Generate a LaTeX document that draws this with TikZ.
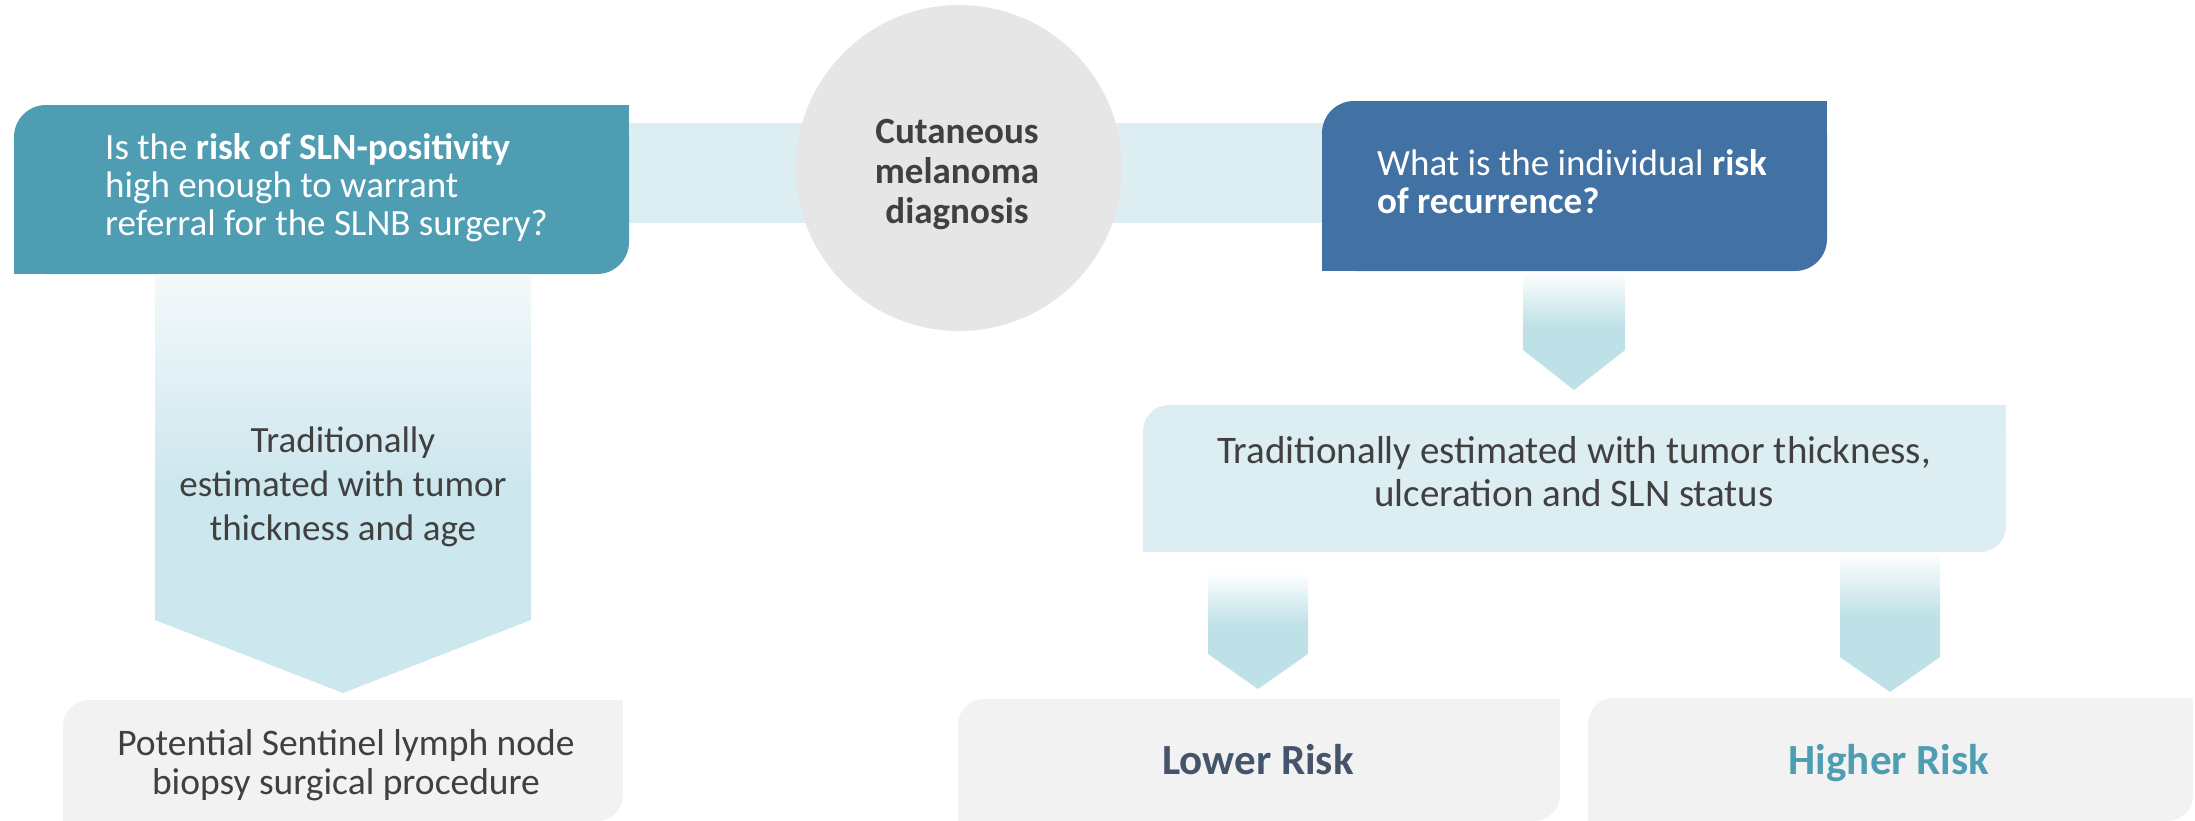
\documentclass[tikz,border=0pt]{standalone}
\usepackage{fontspec}
\setmainfont{Carlito}
\definecolor{cTeal}{HTML}{4F9DB3}
\definecolor{cBlue}{HTML}{4272A4}
\definecolor{cBand}{HTML}{DDEEF2}
\definecolor{cCircle}{HTML}{E6E6E6}
\definecolor{cGrayBox}{HTML}{F2F2F2}
\definecolor{cText}{HTML}{404040}
\definecolor{cLower}{HTML}{44546A}
\definecolor{cArrow}{HTML}{BEE1E7}
\definecolor{cBigArrow}{HTML}{CDE7EE}
\definecolor{cBigTop}{HTML}{F4F9FB}
\definecolor{cSmallTop}{HTML}{FFFFFF}
\pgfdeclareverticalshading{smallarr}{100bp}{color(0bp)=(cArrow); color(52bp)=(cArrow); color(75bp)=(cSmallTop); color(100bp)=(cSmallTop)}
\pgfdeclareverticalshading{bigarr}{100bp}{color(0bp)=(cBigArrow); color(50bp)=(cBigArrow); color(75bp)=(cBigTop); color(100bp)=(cBigTop)}
\newcommand{\ttbox}[6]{%
  \fill[#1, rounded corners=#6pt] (#2,#3) rectangle (#4,#5);
  \fill[#1] ({#4-#6},#3) rectangle (#4,{#3+#6});
  \fill[#1] (#2,{#5-#6}) rectangle ({#2+#6},#5);
}
\tikzset{
  txt/.style={inner sep=0pt, text=cText},
  wtxt/.style={inner sep=0pt, text=white, font=\fontsize{37}{38}\selectfont, align=left, anchor=west},
  risk/.style={inner sep=0pt, font=\bfseries\fontsize{43}{45}\selectfont, anchor=base},
}
\begin{document}
\begin{tikzpicture}[x=1pt,y=-1pt]
\useasboundingbox (0,0) rectangle (2195,820);
% band behind
\fill[cBand] (600,123) rectangle (1340,223);
% circle
\fill[cCircle] (959,168) circle (163);
\node[txt, font=\bfseries\fontsize{37}{40}\selectfont, align=center] (diag) at (957,174) {Cutaneous\\melanoma\\diagnosis};
% left question box
\ttbox{cTeal}{14}{105}{629}{274}{32}
\node[wtxt] (q1) at (105,188) {Is the \textbf{risk of SLN-positivity}\\high enough to warrant\\referral for the SLNB surgery?};
% right question box
\ttbox{cBlue}{1322}{101}{1827}{271}{32}
\node[wtxt] (q2) at (1377,182) {What is the individual \textbf{risk}\\\textbf{of recurrence?}};
% big left arrow
\shade[shading=bigarr] (155,274) -- (531,274) -- (531,620) -- (343,693) -- (155,620) -- cycle;
\node[txt, font=\fontsize{37}{44}\selectfont, align=center] (t1) at (343,487) {Traditionally\\estimated with tumor\\thickness and age};
% upper right arrow
\shade[shading=smallarr] (1523,272) -- (1625,272) -- (1625,350) -- (1574,390) -- (1523,350) -- cycle;
% middle right box
\ttbox{cBand}{1143}{405}{2006}{552}{26}
\node[txt, font=\fontsize{39}{43}\selectfont, align=center] (t2) at (1574,472) {Traditionally estimated with tumor thickness,\\ulceration and SLN status};
% lower arrows
\shade[shading=smallarr] (1208,572) -- (1308,572) -- (1308,654) -- (1258,689) -- (1208,654) -- cycle;
\shade[shading=smallarr] (1840,552) -- (1940,552) -- (1940,657) -- (1890,692) -- (1840,657) -- cycle;
% bottom boxes
\ttbox{cGrayBox}{63}{700}{623}{821}{26}
\node[txt, font=\fontsize{37.5}{39}\selectfont, align=center] (t3) at (346,765) {Potential Sentinel lymph node\\biopsy surgical procedure};
\ttbox{cGrayBox}{958}{699}{1560}{821}{26}
\node[risk, text=cLower] (low) at (1258,774) {Lower Risk};
\ttbox{cGrayBox}{1588}{698}{2193}{821}{26}
\node[risk, text=cTeal] (high) at (1889,774) {Higher Risk};
\end{tikzpicture}
\end{document}
